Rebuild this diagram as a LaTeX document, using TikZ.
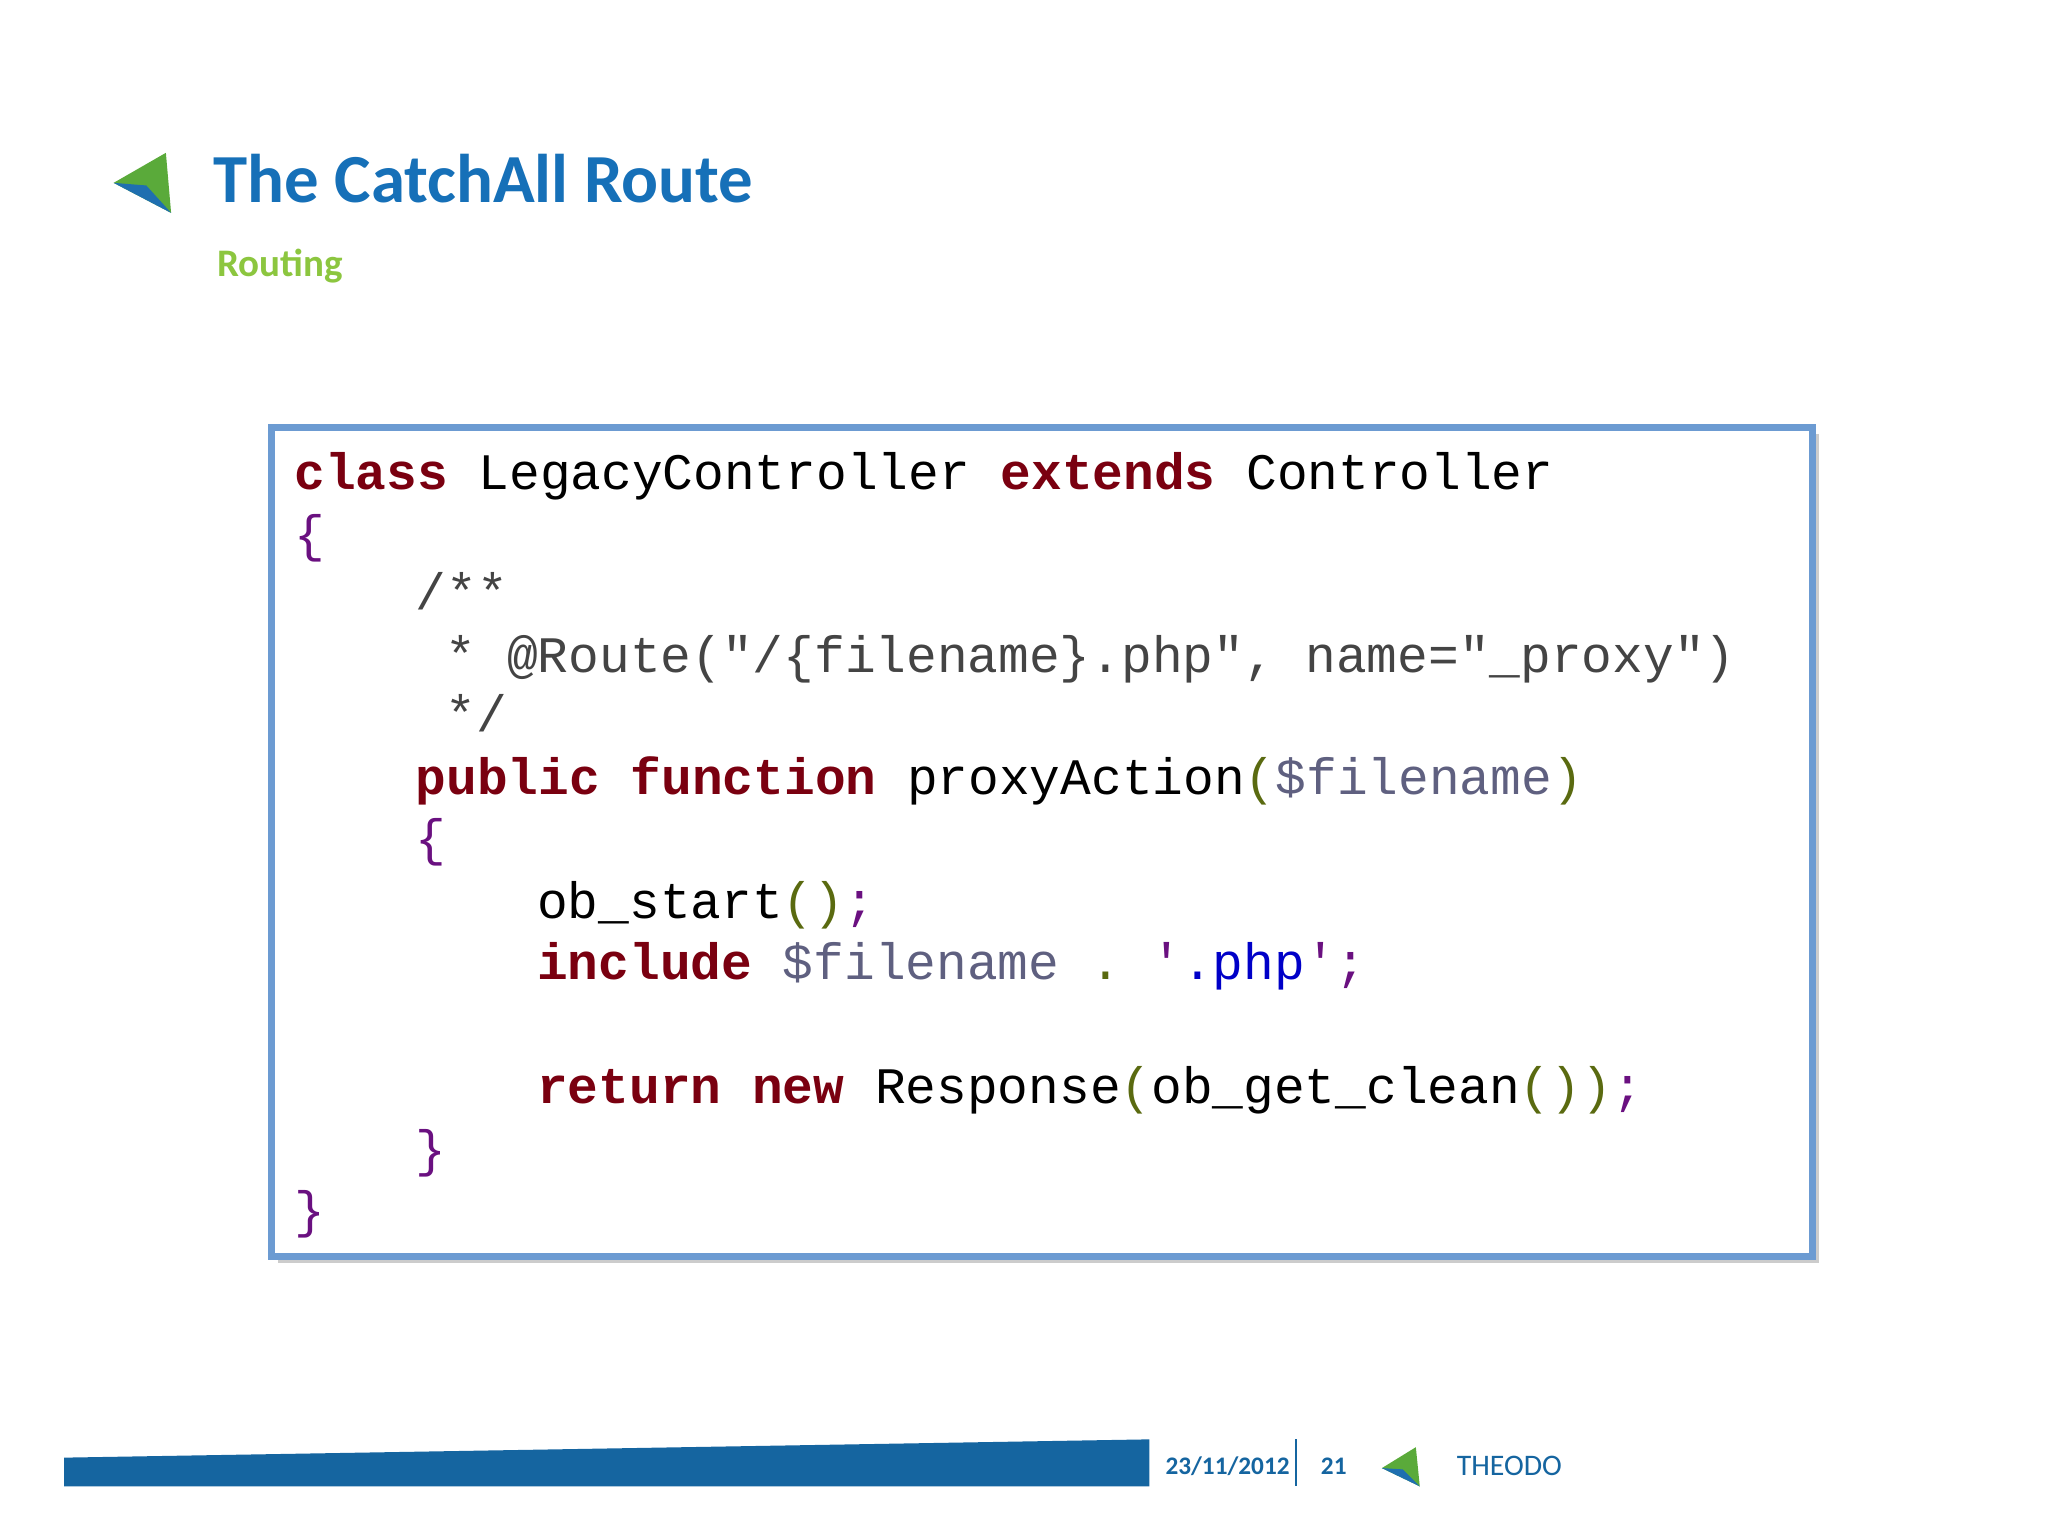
\documentclass[tikz,border=0pt]{standalone}
\usepackage{fontspec}
\setmainfont{Carlito}
\setmonofont{Liberation Mono}
\definecolor{kwc}{HTML}{7A0010}
\definecolor{cmc}{HTML}{444444}
\definecolor{pac}{HTML}{5A6A10}
\definecolor{brc}{HTML}{6A1080}
\definecolor{vac}{HTML}{5F6080}
\definecolor{stc}{HTML}{0000C8}
\definecolor{ttl}{HTML}{1670B8}
\definecolor{sub}{HTML}{8CC63F}
\definecolor{boxc}{HTML}{6C9BD2}
\definecolor{barc}{HTML}{1565A0}
\definecolor{lgreen}{HTML}{5AAA3A}
\definecolor{lblue}{HTML}{1F6FB0}
\newcommand{\kw}[1]{\textcolor{kwc}{\textbf{#1}}}
\newcommand{\cm}[1]{\textcolor{cmc}{#1}}
\newcommand{\pa}[1]{\textcolor{pac}{#1}}
\newcommand{\br}[1]{\textcolor{brc}{#1}}
\newcommand{\va}[1]{\textcolor{vac}{#1}}
\newcommand{\st}[1]{\textcolor{stc}{#1}}
\begin{document}
\begin{tikzpicture}[x=0.02cm,y=-0.02cm,
  code/.style={anchor=base west,inner sep=0pt,font=\fontsize{22.3}{26}\ttfamily}]
\useasboundingbox (0,0) rectangle (1568,1176);
\fill[white] (0,0) rectangle (1568,1176);
% logo
\fill[lgreen] (87,140) -- (127,117) -- (131,163) -- cycle;
\fill[lblue] (87,140) -- (112,142) -- (131,163) -- cycle;
\node[anchor=base west,inner sep=0pt,font=\fontsize{30}{36}\selectfont\bfseries,text=ttl] (title) at (163,155) {The CatchAll Route};
\node[anchor=base west,inner sep=0pt,font=\fontsize{17}{21}\selectfont\bfseries,text=sub] (subt) at (166,212) {Routing};
% box
\fill[gray!40] (213,332) rectangle (1393,967);
\draw[boxc,line width=3pt,fill=white] (208,327) rectangle (1388,962);
\node[code] (l1) at (225,375) {\kw{class} LegacyController \kw{extends} Controller};
\node[code] (l2) at (225,422) {\br{\{}};
\node[code] (l3) at (318,467) {\cm{/**}};
\node[code] (l4) at (341,515) {\cm{* @Route("/\{filename\}.php", name="\_proxy")}};
\node[code] (l5) at (341,560) {\cm{*/}};
\node[code] (l6) at (318,608) {\kw{public} \kw{function} proxyAction\pa{(}\va{\$filename}\pa{)}};
\node[code] (l7) at (318,655) {\br{\{}};
\node[code] (l8) at (411,703) {ob\_start\pa{()}\br{;}};
\node[code] (l9) at (411,750) {\kw{include} \va{\$filename} \pa{.} \br{'}\st{.php}\br{'}\br{;}};
\node[code] (l10) at (411,845) {\kw{return} \kw{new} Response\pa{(}ob\_get\_clean\pa{())}\br{;}};
\node[code] (l11) at (318,893) {\br{\}}};
\node[code] (l12) at (225,940) {\br{\}}};
% footer
\fill[barc] (49,1116) -- (880,1102) -- (880,1138) -- (49,1138) -- cycle;
\node[anchor=base west,inner sep=0pt,font=\fontsize{11}{13}\selectfont\bfseries,text=barc] (date) at (892,1129) {23/11/2012};
\draw[barc,line width=1pt] (992,1102) -- (992,1138);
\node[anchor=base west,inner sep=0pt,font=\fontsize{11}{13}\selectfont\bfseries,text=barc] (pg) at (1011,1129) {21};
\fill[lgreen] (1058,1124) -- (1084,1108) -- (1087,1138) -- cycle;
\fill[lblue] (1058,1124) -- (1074,1125) -- (1087,1138) -- cycle;
\node[anchor=base west,inner sep=0pt,font=\fontsize{13}{15}\selectfont,text=barc] (th) at (1115,1130) {THEODO};
\end{tikzpicture}
\end{document}
